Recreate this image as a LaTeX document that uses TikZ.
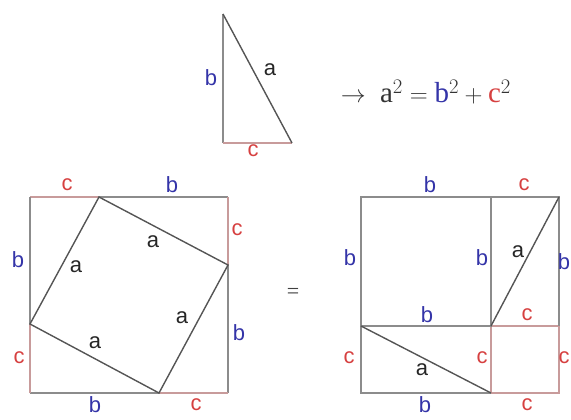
\documentclass[tikz,border=0pt]{standalone}
\usepackage{fontspec}
\usepackage{amsmath}
\setmainfont{Liberation Serif}
\newfontfamily\labelfont{Liberation Sans}
\usetikzlibrary{calc}
\definecolor{sideblue}{RGB}{52,52,168}
\definecolor{sidered}{RGB}{214,64,64}
\definecolor{edgegray}{RGB}{140,140,140}
\definecolor{hypgray}{RGB}{85,85,85}
\definecolor{cedge}{RGB}{200,155,155}

\begin{document}
\begin{tikzpicture}[
    x=1pt, y=-1pt,
    edge/.style={draw=edgegray, line width=1.8pt},
    cline/.style={draw=cedge, line width=1.8pt},
    hyp/.style={draw=hypgray, line width=1.4pt},
    blab/.style={text=sideblue, font=\labelfont\fontsize{22}{22}\selectfont, inner sep=0pt},
    clab/.style={text=sidered, font=\labelfont\fontsize{22}{22}\selectfont, inner sep=0pt},
    alab/.style={text=black!85, font=\labelfont\fontsize{22}{22}\selectfont, inner sep=0pt}
  ]
    \useasboundingbox (0,0) rectangle (571,420);

    \coordinate (ttop) at (223,14);
    \coordinate (tleft) at (223,143);
    \coordinate (tright) at (292,143);
    \draw[edge] (ttop) -- (tleft);
    \draw[cline] (tleft) -- (tright);
    \draw[hyp] (ttop) -- (tright);
    \node[blab] (tb) at (211,78) {b};
    \node[alab] (ta) at (270,70) {a};
    \node[clab] (tc) at (253,151) {c};
    \node[font=\fontsize{29}{29}\selectfont, text=black!80, inner sep=0pt] (law) at (426,92)
      {$\rightarrow\ \mathrm{a}^2 = \textcolor{sideblue}{\mathrm{b}}^2 + \textcolor{sidered}{\mathrm{c}}^2$};

    \coordinate (la) at (30,197);
    \coordinate (lb) at (228,197);
    \coordinate (lc) at (228,393);
    \coordinate (ld) at (30,393);
    \coordinate (lp1) at (99,197);
    \coordinate (lp2) at (228,265);
    \coordinate (lp3) at (159,393);
    \coordinate (lp4) at (30,324);
    \draw[cline] (la) -- (lp1);
    \draw[edge] (lp1) -- (lb);
    \draw[cline] (lb) -- (lp2);
    \draw[edge] (lp2) -- (lc);
    \draw[cline] (lc) -- (lp3);
    \draw[edge] (lp3) -- (ld);
    \draw[cline] (ld) -- (lp4);
    \draw[edge] (lp4) -- (la);
    \draw[hyp] (lp1) -- (lp2) -- (lp3) -- (lp4) -- cycle;
    \node[clab] (lctop) at (67,185) {c};
    \node[blab] (lbtop) at (172,185) {b};
    \node[clab] (lcright) at (237,230) {c};
    \node[blab] (lbright) at (239,333) {b};
    \node[clab] (lcbot) at (196,405) {c};
    \node[blab] (lbbot) at (95,405) {b};
    \node[clab] (lcleft) at (19,358) {c};
    \node[blab] (lbleft) at (18,260) {b};
    \node[alab] (la1) at (76,267) {a};
    \node[alab] (la2) at (153,242) {a};
    \node[alab] (la3) at (182,318) {a};
    \node[alab] (la4) at (95,343) {a};

    \node[text=black!75, font=\fontsize{22}{22}\selectfont, inner sep=0pt] (eq) at (293,293) {=};

    \coordinate (ra) at (361,197);
    \coordinate (rb) at (559,197);
    \coordinate (rc) at (559,393);
    \coordinate (rd) at (361,393);
    \coordinate (rtop) at (491,197);
    \coordinate (rmid) at (491,326);
    \coordinate (rbot) at (491,393);
    \coordinate (rleft) at (361,326);
    \coordinate (rright) at (559,326);
    \draw[cline] (rmid) -- (rright) -- (rc) -- (rbot) -- cycle;
    \draw[edge] (rleft) -- (ra) -- (rtop) -- (rmid) -- cycle;
    \draw[edge] (rtop) -- (rb) -- (rright);
    \draw[edge] (rleft) -- (rd) -- (rbot);
    \draw[hyp] (rmid) -- (rb);
    \draw[hyp] (rleft) -- (rbot);
    \node[blab] (rbtop) at (430,185) {b};
    \node[clab] (rctop) at (524,185) {c};
    \node[blab] (rbleft) at (350,258) {b};
    \node[blab] (rbin) at (482,258) {b};
    \node[alab] (ra1) at (518,252) {a};
    \node[blab] (rbright) at (564,262) {b};
    \node[blab] (rbmid) at (427,315) {b};
    \node[clab] (rcmid) at (527,315) {c};
    \node[clab] (rcleft) at (349,358) {c};
    \node[clab] (rcin) at (482,358) {c};
    \node[clab] (rcright) at (564,358) {c};
    \node[alab] (ra2) at (422,370) {a};
    \node[blab] (rbbot) at (425,405) {b};
    \node[clab] (rcbot) at (527,405) {c};
  \end{tikzpicture}
\end{document}
